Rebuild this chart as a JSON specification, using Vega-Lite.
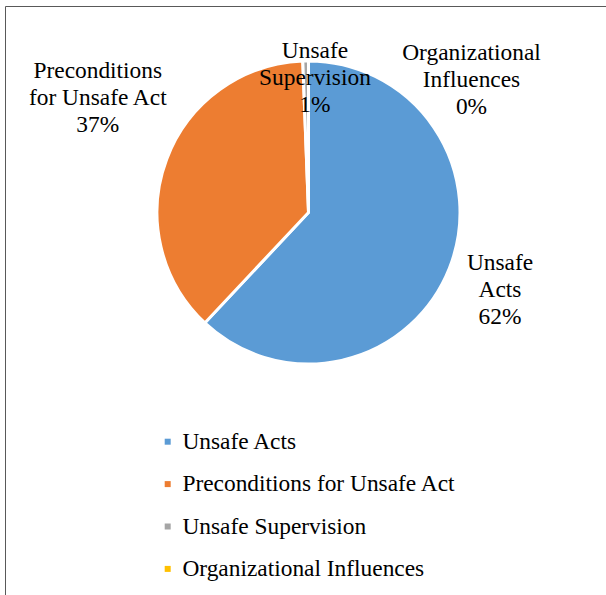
{
  "$schema": "https://vega.github.io/schema/vega-lite/v6.json",
  "width": 595,
  "height": 413,
  "autosize": "none",
  "padding": {"left": 11, "top": 6, "right": 0, "bottom": 176},
  "background": "white",
  "config": {"view": {"stroke": null}, "font": "Times New Roman, Tinos, Liberation Serif, Noto Serif, FreeSerif, Nimbus Roman, DejaVu Serif, serif"},
  "data": {
    "values": [
      {"category": "Unsafe Acts", "label": "Unsafe\nActs", "value": 62},
      {"category": "Preconditions for Unsafe Act", "label": "Preconditions\nfor Unsafe Act", "value": 37.4},
      {"category": "Unsafe Supervision", "label": "Unsafe\nSupervision", "value": 0.6},
      {"category": "Organizational Influences", "label": "Organizational\nInfluences", "value": 0}
    ]
  },
  "transform": [
    {"window": [{"op": "row_number", "as": "rank"}]},
    {"joinaggregate": [{"op": "sum", "field": "value", "as": "total"}]},
    {"calculate": "datum.label + '\\n' + format(datum.value / datum.total, '.0%')", "as": "txt"}
  ],
  "encoding": {
    "theta": {"field": "value", "type": "quantitative", "stack": true},
    "order": {"field": "rank", "type": "quantitative"}
  },
  "layer": [
    {
      "mark": {"type": "arc", "outerRadius": 151.5, "stroke": "white", "strokeWidth": 3},
      "encoding": {
        "color": {
          "field": "category",
          "type": "nominal",
          "scale": {
            "domain": ["Unsafe Acts", "Preconditions for Unsafe Act", "Unsafe Supervision", "Organizational Influences"],
            "range": ["#5B9BD5", "#ED7D31", "#A5A5A5", "#FFC000"]
          },
          "legend": {
            "orient": "none",
            "legendX": -6,
            "legendY": 0,
            "title": " ",
            "titleFontSize": 10,
            "titlePadding": 263,
            "padding": 151,
            "strokeColor": "#595959",
            "symbolType": "square",
            "symbolSize": 36,
            "symbolStrokeWidth": 0,
            "labelFontSize": 23.4,
            "labelColor": "black",
            "labelOffset": 3,
            "rowPadding": 17.4,
            "labelLimit": 0
          }
        }
      }
    },
    {
      "mark": {"type": "text", "radius": 206, "dy": -25, "fontSize": 23.4, "lineHeight": 27, "lineBreak": "\n", "color": "black", "align": "center", "baseline": "middle"},
      "encoding": {"text": {"condition": {"test": "datum.category === 'Unsafe Acts'", "field": "txt"}, "value": ""}}
    },
    {
      "mark": {"type": "text", "radius": 225, "dy": -62.5, "fontSize": 23.4, "lineHeight": 27, "lineBreak": "\n", "color": "black", "align": "center", "baseline": "middle"},
      "encoding": {"text": {"condition": {"test": "datum.category === 'Preconditions for Unsafe Act'", "field": "txt"}, "value": ""}}
    },
    {
      "mark": {"type": "text", "radius": 134.5, "dx": 9, "dy": -27, "fontSize": 23.4, "lineHeight": 27, "lineBreak": "\n", "color": "black", "align": "center", "baseline": "middle"},
      "encoding": {"text": {"condition": {"test": "datum.category === 'Unsafe Supervision'", "field": "txt"}, "value": ""}}
    },
    {
      "mark": {"type": "text", "radius": 133, "dx": 163, "dy": -27, "fontSize": 23.4, "lineHeight": 27, "lineBreak": "\n", "color": "black", "align": "center", "baseline": "middle"},
      "encoding": {"text": {"condition": {"test": "datum.category === 'Organizational Influences'", "field": "txt"}, "value": ""}}
    }
  ]
}
